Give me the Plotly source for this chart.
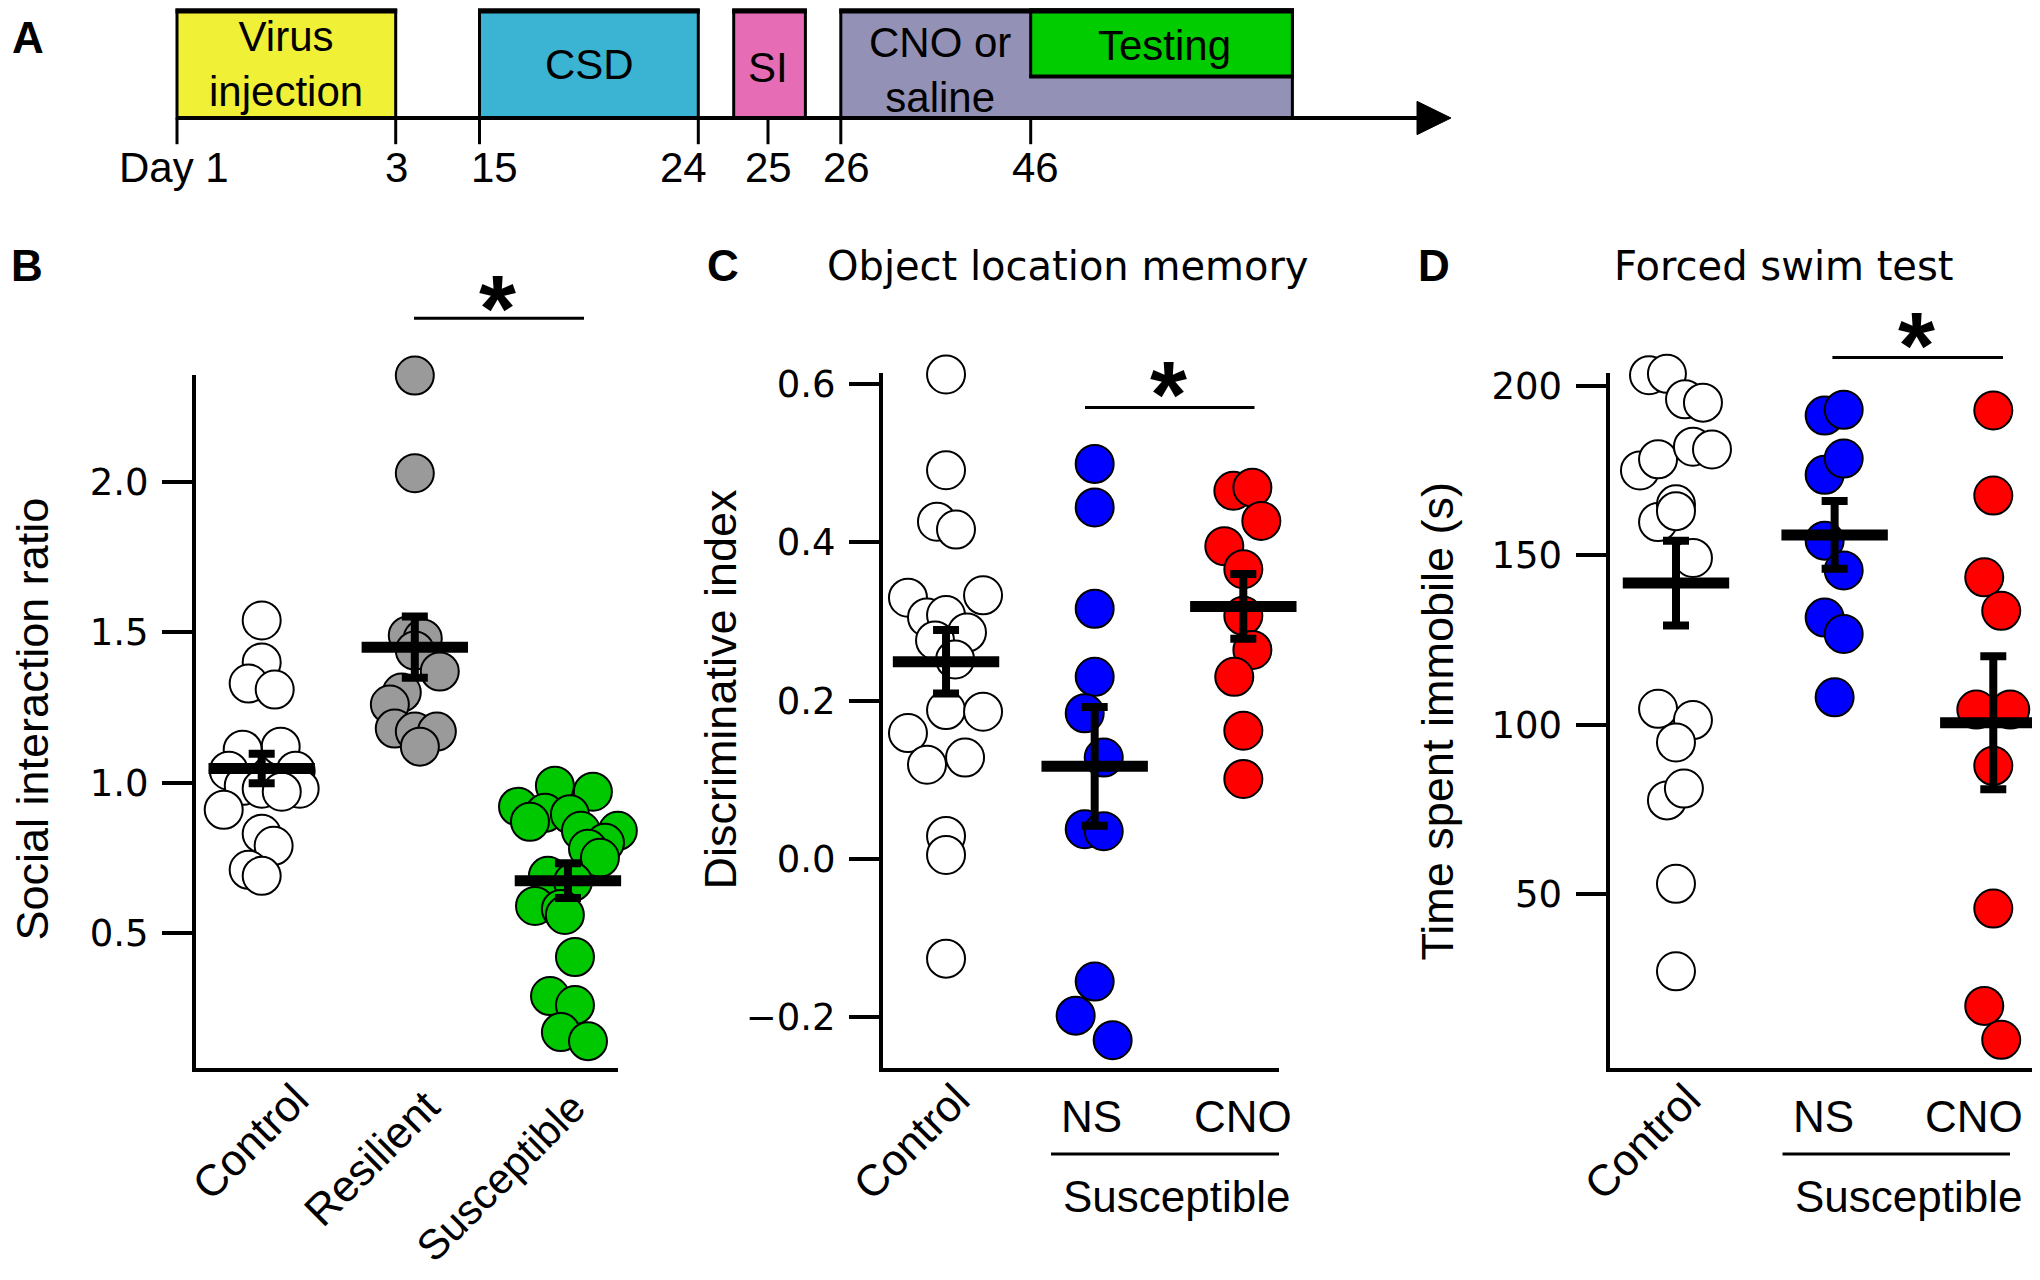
import plotly.graph_objects as go

# page is drawn with the browser's 8px body margin, so the figure is sized to fit the window
FW, FH = 2024, 1264
M = 8


def px(x):
    return (x - M) / FW


def py(y):
    y_eff = y - (8.5 - 0.005 * y)
    return 1 - (y_eff - M) / FH


# ---------------- data ----------------
# Panel B: social interaction ratio
b_groups = ["Control", "Resilient", "Susceptible"]
b_control = [1.54, 1.40, 1.33, 1.31, 1.12, 1.11, 1.04, 1.04, 0.99, 0.98, 0.98, 0.97, 0.91, 0.83, 0.79, 0.71, 0.69]
b_control_dx = [0, 0, -0.085, 0.085, 0.124, -0.124, -0.215, 0.222, -0.117, 0.248, 0, 0.131, -0.248, 0, 0.078, -0.085, 0]
b_resilient = [2.355, 2.03, 1.49, 1.48, 1.44, 1.37, 1.30, 1.26, 1.18, 1.17, 1.17, 1.12]
b_resilient_dx = [0, 0, -0.046, 0.052, 0, 0.163, -0.085, -0.163, -0.131, 0, 0.144, 0.033]
b_susceptible = [0.99, 0.97, 0.92, 0.90, 0.895, 0.87, 0.84, 0.84, 0.80, 0.78, 0.75, 0.69, 0.67, 0.59, 0.58,
                 0.56, 0.42, 0.29, 0.26, 0.17, 0.14]
b_susceptible_dx = [-0.085, 0.163, -0.326, -0.150, 0.013, -0.248, 0.085, 0.326, 0.242, 0.131, 0.209, -0.131,
                    0.033, -0.215, -0.046, -0.020, 0.046, -0.117, 0.046, -0.046, 0.131]
b_mean = [1.047, 1.451, 0.674]
b_sem = [0.049, 0.102, 0.058]
b_ticks = [0.5, 1.0, 1.5, 2.0]

# Panel C: object location memory
c_groups = ["Control", "NS", "CNO"]
c_control = [0.612, 0.491, 0.426, 0.416, 0.330, 0.333, 0.305, 0.308, 0.286, 0.276, 0.252, 0.188, 0.186,
             0.159, 0.119, 0.128, 0.029, 0.005, -0.126]
c_control_dx = [0, 0, -0.061, 0.067, -0.256, 0.249, -0.128, 0, 0.141, -0.074, 0.061, 0, 0.249, -0.256,
                -0.128, 0.128, 0, 0, 0]
c_ns = [0.499, 0.444, 0.316, 0.230, 0.184, 0.128, 0.0375, 0.035, -0.155, -0.198, -0.229]
c_ns_dx = [0, 0, 0, 0, -0.067, 0.061, -0.067, 0.061, 0, -0.128, 0.121]
c_cno = [0.465, 0.469, 0.427, 0.395, 0.366, 0.307, 0.264, 0.230, 0.162, 0.101]
c_cno_dx = [-0.067, 0.061, 0.121, -0.128, 0, 0, 0.061, -0.061, 0, 0]
c_mean = [0.249, 0.117, 0.319]
c_sem = [0.040, 0.075, 0.041]
c_ticks = [-0.2, 0.0, 0.2, 0.4, 0.6]

# Panel D: forced swim test
d_groups = ["Control", "NS", "CNO"]
d_control = [203.1, 203.5, 196.0, 195.0, 175.0, 178.3, 182.0, 181.2, 159.8, 165.0, 163.0, 149.2, 104.7,
             101.4, 94.8, 77.7, 81.2, 53.1, 27.3]
d_control_dx = [-0.170, -0.057, 0.057, 0.170, -0.227, -0.113, 0.107, 0.227, -0.113, 0, 0, 0.107, -0.113,
                0.107, 0, -0.057, 0.050, 0, 0]
d_ns = [191.2, 192.9, 173.7, 178.5, 154.3, 145.5, 131.6, 126.8, 108.1]
d_ns_dx = [-0.063, 0.057, -0.063, 0.057, -0.063, 0.057, -0.063, 0.057, 0]
d_cno = [192.7, 167.6, 143.5, 133.6, 104.5, 104.5, 87.9, 45.8, 17.1, 7.1]
d_cno_dx = [0, 0, -0.057, 0.050, -0.107, 0.107, 0, 0, -0.057, 0.050]
d_mean = [141.8, 156.0, 100.6]
d_sem = [12.5, 10.0, 19.6]
d_ticks = [50, 100, 150, 200]

susceptible_label = "Susceptible"

# Panel A: schematic timeline
tl_tick_labels = ["Day 1", "3", "15", "24", "25", "26", "46"]
tl_box_labels = ["Virus<br>injection", "CSD", "SI", "CNO or<br>saline", "Testing"]

# ---------------- styles / layout constants ----------------
AR = "Liberation Sans"
DV = "DejaVu Sans"
WHITE, GREY, GREEN, BLUE, RED = "#FFFFFF", "#9A9A9A", "#00C800", "#0000FF", "#FF0000"
MSIZE = 38

fig = go.Figure()


def add_points(xax, yax, cat, vals, dx, color):
    fig.add_trace(go.Scatter(
        x=[cat + d for d in dx], y=vals, mode="markers", xaxis=xax, yaxis=yax,
        marker=dict(size=MSIZE, color=color, line=dict(color="black", width=2)),
        cliponaxis=False, hoverinfo="skip", showlegend=False))


def add_mean(xax, yax, means, sems):
    fig.add_trace(go.Scatter(
        x=list(range(len(means))), y=means, mode="markers", xaxis=xax, yaxis=yax,
        marker=dict(symbol="line-ew", size=76, color="black", line=dict(color="black", width=11)),
        error_y=dict(type="data", array=sems, visible=True, thickness=8, width=13, color="black"),
        cliponaxis=False, hoverinfo="skip", showlegend=False))


add_points("x", "y", 0, b_control, b_control_dx, WHITE)
add_points("x", "y", 1, b_resilient, b_resilient_dx, GREY)
add_points("x", "y", 2, b_susceptible, b_susceptible_dx, GREEN)
add_mean("x", "y", b_mean, b_sem)

add_points("x2", "y2", 0, c_control, c_control_dx, WHITE)
add_points("x2", "y2", 1, c_ns, c_ns_dx, BLUE)
add_points("x2", "y2", 2, c_cno, c_cno_dx, RED)
add_mean("x2", "y2", c_mean, c_sem)

add_points("x3", "y3", 0, d_control, d_control_dx, WHITE)
add_points("x3", "y3", 1, d_ns, d_ns_dx, BLUE)
add_points("x3", "y3", 2, d_cno, d_cno_dx, RED)
add_mean("x3", "y3", d_mean, d_sem)

xcommon = dict(showline=True, linewidth=4, linecolor="black", showticklabels=False, ticks="",
               showgrid=False, zeroline=False, fixedrange=True)
ycommon = dict(showline=True, linewidth=4, linecolor="black", ticks="outside", ticklen=30, tickwidth=4,
               tickcolor="black", showgrid=False, zeroline=False, ticklabelstandoff=6,
               tickfont=dict(family=DV, size=37, color="black"))

fig.update_layout(
    width=FW, height=FH, margin=dict(l=0, r=0, t=0, b=0), autosize=False,
    paper_bgcolor="white", plot_bgcolor="white", showlegend=False,
    xaxis=dict(domain=[px(196), px(618)], range=[-0.429, 2.327], anchor="y", **xcommon),
    yaxis=dict(domain=[py(1069.4), py(374.7)], range=[0.051, 2.356], anchor="x",
               tickvals=b_ticks, tickformat=".1f", **ycommon),
    xaxis2=dict(domain=[px(883), px(1279)], range=[-0.424, 2.240], anchor="y2", **xcommon),
    yaxis2=dict(domain=[py(1069.4), py(372.8)], range=[-0.264, 0.6134], anchor="x2",
                tickvals=c_ticks, tickformat=".1f", **ycommon),
    xaxis3=dict(domain=[px(1609.5), 1.0], range=[-0.419, 2.244], anchor="y3", **xcommon),
    yaxis3=dict(domain=[py(1069.4), py(372.6)], range=[-1.18, 203.7], anchor="x3",
                tickvals=d_ticks, tickformat="d", **ycommon),
)

ann = []
shapes = []


def text(t, x, y, size=44, family=AR, angle=0, bold=False, xanchor="center"):
    ann.append(dict(text=f"<b>{t}</b>" if bold else t, x=px(x), y=py(y), xref="paper", yref="paper",
                    showarrow=False, xanchor=xanchor, yanchor="middle", textangle=angle,
                    font=dict(family=family, size=size, color="black")))


def line(x0, y0, x1, y1, w=3):
    shapes.append(dict(type="line", xref="paper", yref="paper", x0=px(x0), y0=py(y0), x1=px(x1), y1=py(y1),
                       line=dict(color="black", width=w)))


# panel letters
text("A", 28, 36, bold=True)
text("B", 27, 265, bold=True)
text("C", 723, 265, bold=True)
text("D", 1434, 265, bold=True)

# panel titles
text("Object location memory", 1068, 265, size=40, family=DV)
text("Forced swim test", 1784, 265, size=40, family=DV)

# y axis titles
text("Social interaction ratio", 33, 720, size=45, angle=-90)
text("Discriminative index", 721, 690, size=45, angle=-90)
text("Time spent immobile (s)", 1437, 722, size=45, angle=-90)

# category labels
text(b_groups[0], 250, 1143, angle=-45)
text(b_groups[1], 371, 1160, angle=-45)
text(b_groups[2], 500, 1179, size=42, angle=-45)
text(c_groups[0], 911, 1143, angle=-45)
text(d_groups[0], 1642, 1143, angle=-45)
text(c_groups[1], 1091, 1118)
text(c_groups[2], 1243, 1118)
text(susceptible_label, 1176, 1198)
line(1051, 1155.7, 1279, 1155.7)
text(d_groups[1], 1823.5, 1118)
text(d_groups[2], 1974, 1118)
text(susceptible_label, 1908, 1198)
line(1782.5, 1155.7, 2010, 1155.7)

# significance bars
STAR = 95
for (x0, x1, yl, sx, sy) in [(414, 584, 317.5, 497, 293), (1085, 1254.5, 407, 1168, 380),
                             (1832.4, 2003, 356.8, 1916.6, 331)]:
    line(x0, yl, x1, yl, 3)
    text("*", sx, sy + 0.145 * STAR, size=STAR, bold=True)

# ---------------- Panel A timeline ----------------
tl_tick_x = [177, 395.7, 479.5, 698.3, 768, 840.8, 1030.7]
tl_label_x = [174, 396, 494, 683, 768, 846, 1035]
tl_boxes = [  # x0, x1, y0, y1, fill, text x, text y
    (177, 395.7, 8.3, 116.7, "#F0F037", 286, 63),
    (479.5, 698.3, 8.3, 116.7, "#3BB3D3", 589, 63),
    (733.7, 805.4, 8.3, 116.7, "#E66DB5", 768, 66),
    (840.8, 1292.4, 8.3, 116.7, "#9391B5", 940, 69),
    (1030.7, 1292.4, 8.3, 75, "#00CC00", 1164, 44),
]
for lbl, (x0, x1, y0, y1, col, tx, ty) in zip(tl_box_labels, tl_boxes):
    shapes.append(dict(type="rect", xref="paper", yref="paper", x0=px(x0), x1=px(x1), y0=py(y1), y1=py(y0),
                       fillcolor=col, line=dict(color="black", width=3)))
    line(x0 - 1.5, y0 + 1, x1 + 1.5, y0 + 1, 5)
    if y1 < 100:
        line(x0 - 1.5, y1, x1 + 1.5, y1, 4)
    text(lbl, tx, ty, size=42)

line(177, 116.7, 1425, 116.7, 4)
shapes.append(dict(type="path", xref="paper", yref="paper",
                   path=f"M {px(1417)} {py(100)} L {px(1451)} {py(116.7)} L {px(1417)} {py(133.4)} Z",
                   fillcolor="black", line=dict(color="black", width=1)))
for tx, lx, lbl in zip(tl_tick_x, tl_label_x, tl_tick_labels):
    line(tx, 116.7, tx, 143, 3)
    text(lbl, lx, 166, size=42)

fig.update_layout(annotations=ann, shapes=shapes)
fig.write_html("out.html")
